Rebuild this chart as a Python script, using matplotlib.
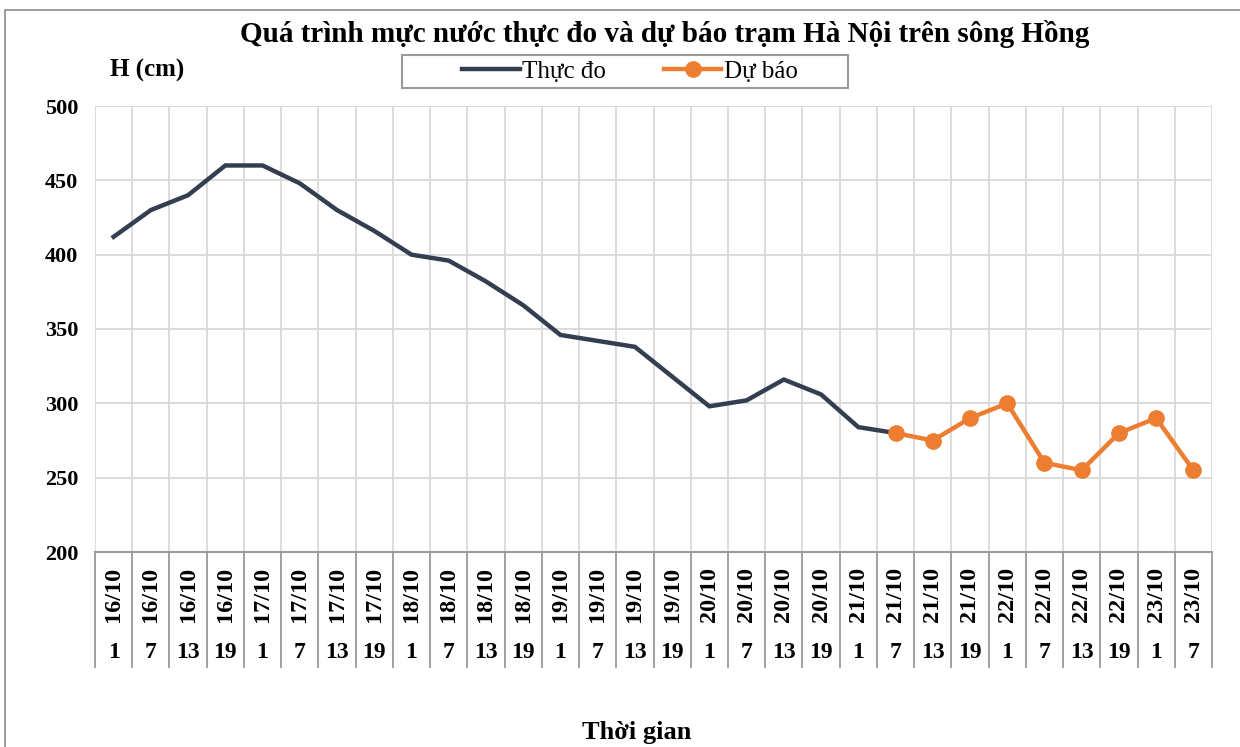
import matplotlib
matplotlib.use("Agg")
import matplotlib.pyplot as plt
from matplotlib.patches import Rectangle
from matplotlib.lines import Line2D

dates = ["16/10"] * 4 + ["17/10"] * 4 + ["18/10"] * 4 + ["19/10"] * 4 + \
        ["20/10"] * 4 + ["21/10"] * 4 + ["22/10"] * 4 + ["23/10"] * 2
hours = ["1", "7", "13", "19"] * 7 + ["1", "7"]
observed = [412, 430, 440, 460, 460, 448, 430, 416, 400, 396, 382, 366,
            346, 342, 338, 318, 298, 302, 316, 306, 284, 280]
forecast = [280, 275, 290, 300, 260, 255, 280, 290, 255]
forecast_start = 21
yticks = [200, 250, 300, 350, 400, 450, 500]

title = "Quá trình mực nước thực đo và dự báo trạm Hà Nội trên sông Hồng"
ylabel = "H (cm)"
xlabel = "Thời gian"
legend_labels = ["Thực đo", "Dự báo"]

plt.rcParams["font.family"] = ["Liberation Serif", "DejaVu Serif"]

W, H = 1240, 747
fig = plt.figure(figsize=(W / 100, H / 100), dpi=100)
L, R, T, B = 95, 1212, 106, 552
ax = fig.add_axes([L / W, 1 - B / H, (R - L) / W, (B - T) / H])

# outer border
fig.patches.append(Rectangle((5 / W, -0.1), 1.2, 1 - 10 / H + 0.1,
                             transform=fig.transFigure, fill=False,
                             edgecolor="#8c8c8c", linewidth=1.2))
# legend frame
fig.patches.append(Rectangle((402 / W, 1 - 88 / H), (848 - 402) / W,
                             (88 - 55) / H, transform=fig.transFigure,
                             fill=True, facecolor="white",
                             edgecolor="#9a9a9a", linewidth=1.5))

n = len(dates)
xs = list(range(n))
ax.set_xlim(-0.5, n - 0.5)
ax.set_ylim(200, 500)
ax.set_yticks(yticks)
ax.set_yticklabels([str(v) for v in yticks], fontsize=16, fontweight="bold")
ax.tick_params(axis="y", length=0, pad=12)
ax.set_xticks([])
for s in ["top", "right", "left"]:
    ax.spines[s].set_visible(False)
ax.spines["bottom"].set_color("#9a9a9a")
ax.spines["bottom"].set_linewidth(1.5)

grid_c = "#d9d9d9"
for v in yticks[1:]:
    ax.axhline(v, color=grid_c, lw=1.3, zorder=0)
for i in range(n + 1):
    ax.axvline(i - 0.5, color=grid_c, lw=1.3, zorder=0)

# category label area
trans = ax.get_xaxis_transform()
depth = -(667 - B) / (B - T)
for i in range(n + 1):
    ax.plot([i - 0.5, i - 0.5], [0, depth], transform=trans, color="#9a9a9a",
            lw=1.3, clip_on=False)
for i in range(n):
    ax.text(xs[i], -(594 - B) / (B - T), dates[i], transform=trans,
            rotation=90, ha="center", va="center", fontsize=17.5,
            fontweight="bold")
    ax.text(xs[i], -(652 - B) / (B - T), hours[i], transform=trans,
            ha="center", va="center", fontsize=17, fontweight="bold")

obs_x = xs[:len(observed)]
fc_x = xs[forecast_start:forecast_start + len(forecast)]
ax.plot(obs_x, observed, color="#333f50", lw=3.2, zorder=3,
        solid_joinstyle="miter")
ax.plot(fc_x, forecast, color="#ed7d31", lw=3.2, marker="o", markersize=11,
        zorder=4)

fig.text(665 / W, 1 - 34 / H, title, ha="center", va="center",
         fontsize=21, fontweight="bold")
fig.text(147 / W, 1 - 70 / H, ylabel, ha="center", va="center",
         fontsize=18, fontweight="bold")
fig.text(637 / W, 1 - 733 / H, xlabel, ha="center", va="center",
         fontsize=19, fontweight="bold")

handles = [Line2D([], [], color="#333f50", lw=3.2),
           Line2D([], [], color="#ed7d31", lw=3.2, marker="o", markersize=11)]
leg = fig.legend(handles, legend_labels, loc="center",
                 bbox_to_anchor=(630 / W, 1 - 71.5 / H), ncol=2,
                 fontsize=18, frameon=False,
                 handlelength=2.3, columnspacing=2.3,
                 borderpad=0.2, handletextpad=0.1, borderaxespad=0)

fig.savefig("out.png", dpi=100)
